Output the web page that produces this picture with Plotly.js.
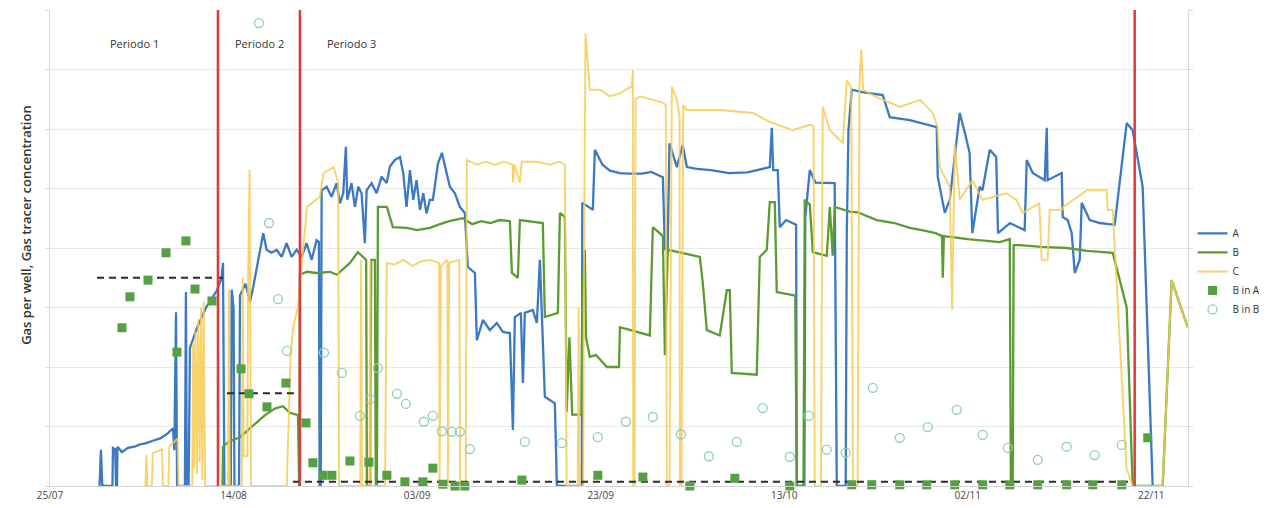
<!DOCTYPE html>
<html><head><meta charset="utf-8">
<script src="https://cdn.plot.ly/plotly-3.0.1.min.js"></script>
<style>body{margin:0;background:#fff}#chart{width:1282px;height:508px}</style>
</head><body><div id="chart"></div>
<script>
// x = days since 25/07, y = relative units
const tickDays = [0,20,40,60,80,100,120];
const tickLabels = ["25/07","14/08","03/09","23/09","13/10","02/11","22/11"];
const periodLines = [18.3, 27.23, 118.19];
const periodNames = ["Periodo 1","Periodo 2","Periodo 3"];
const periodLabelDays = [9.26, 22.88, 32.9];
const refStarts = [5.12, 19.28, 26.47];
const refEnds = [18.85, 27.02, 117.97];
const refLevels = [3.5, 1.56, 0.07];

const seriesA = [
[5.4,0],[5.55,0.61],[5.7,0],
[6.8,0],[6.86,0.64],[7.1,0.62],[7.2,0],[7.3,0],[7.35,0.66],[7.84,0.57],[8.5,0.64],[9.2,0.66],[9.8,0.7],[10.5,0.72],[11.2,0.76],[12,0.8],[12.8,0.88],[13.4,0.97],[13.55,0.6],[13.73,2.92],[13.85,0],[14.7,0],[14.81,3.26],[14.9,0],[15.1,0],[15.25,2.32],[16,2.65],[17,3.0],[18.2,3.29],[18.7,3.5],[18.85,3.75],[19.0,0],
[19.7,0],[19.8,3.3],[20.0,3.0],[20.1,0],[20.6,0],[20.7,3.2],[21.3,3.4],[21.8,3.1],[22.15,3.35],[22.69,3.8],[23.24,4.25],[23.6,3.97],[24.15,3.92],[24.7,3.97],[25.24,3.85],[25.78,4.08],[26.33,3.85],[26.87,3.97],[27.42,3.85],[27.96,4.08],[28.51,3.8],[29.05,4.13],[29.3,4.1],[29.38,0],[29.5,0],[29.6,4.97],[30.14,5.03],[30.68,4.86],[31.23,5.09],[31.59,4.75],[31.95,4.92],[32.24,5.7],[32.39,4.81],[32.86,5.09],[33.22,4.69],[33.59,5.03],[33.95,4.92],[34.31,4.08],[34.5,4.97],[35.04,5.09],[35.59,4.92],[36.13,5.2],[36.68,5.09],[37.04,5.37],[37.58,5.48],[38.13,5.53],[38.49,5.26],[38.85,4.69],[39.22,5.31],[39.58,4.81],[39.94,5.14],[40.31,4.64],[40.67,4.92],[41.03,4.58],[41.39,4.81],[41.72,4.81],[42.27,5.42],[42.7,5.6],[43.03,5.37],[43.57,5.03],[44.12,4.92],[44.66,4.69],[45.2,4.59],[45.53,3.68],[46.3,3.58],[46.51,2.45],[47.17,2.79],[47.93,2.62],[48.69,2.74],[49.35,2.59],[50.11,2.57],[50.44,0.94],[50.65,2.84],[51.31,2.91],[51.53,1.73],[51.74,2.91],[52.61,2.96],[53.05,2.74],[53.38,3.8],[53.92,1.5],[55.01,1.39],[55.23,0],
[57.95,0],[58.0,4.76],[59.15,4.64],[59.37,5.65],[60.2,5.4],[61,5.3],[62.09,5.26],[63,5.25],[64.5,5.25],[65.5,5.28],[66.78,5.19],[67.0,3.97],[67.3,4.0],[67.5,5.76],[68.3,5.36],[68.95,5.73],[69.39,5.36],[70.5,5.33],[72,5.31],[74,5.26],[76,5.27],[78.43,5.36],[78.65,6.02],[78.8,5.31],[79.3,5.31],[79.52,4.35],[80.2,4.47],[81.3,4.39],[81.37,0],[82.2,0],[82.3,4.52],[82.79,5.31],[83.4,5.1],[85.5,5.09],[85.73,0],[86.7,0],[86.82,4.25],[87.0,5.98],[87.36,6.66],[88.5,6.62],[90.74,6.57],[91.5,6.2],[93.68,6.15],[96.62,6.03],[96.73,5.2],[97.5,4.59],[98.04,4.81],[99.13,6.27],[99.7,5.93],[100.2,5.6],[100.5,4.25],[101.3,5.03],[101.6,4.97],[102.4,5.65],[103.1,5.53],[103.3,4.25],[104.6,4.42],[106.2,4.3],[106.43,5.48],[107.08,5.26],[108.39,5.14],[108.61,6.02],[108.7,5.14],[110.24,5.26],[110.35,4.52],[110.89,4.47],[111.33,4.25],[111.66,3.58],[112.2,3.8],[112.42,4.76],[113.29,4.47],[114.38,4.42],[116.01,4.39],[117.32,6.1],[117.97,5.98],[119.06,5.03],[120.15,0]
];

const seriesB = [
[18.8,0],[18.85,0.66],[19.5,0.75],[20.7,0.82],[22,1.0],[23.5,1.2],[24.5,1.3],[25.38,1.34],[26.14,1.23],[27.02,1.19],[27.15,0],[27.23,3.55],[28,3.6],[29,3.58],[30.5,3.6],[31.26,3.55],[32.68,3.75],[33.55,3.93],[34.1,3.85],[34.45,3.8],[34.53,0],[34.9,0],[35.0,3.8],[35.4,3.8],[35.5,0],[35.62,0],[35.73,4.69],[36.71,4.69],[37.36,4.35],[38.89,4.34],[40,4.3],[41.39,4.34],[42.5,4.4],[43.5,4.45],[45,4.5],[46,4.4],[47,4.45],[48,4.42],[49,4.47],[50.11,4.45],[50.33,3.58],[50.98,3.5],[51.2,4.47],[53.7,4.42],[53.92,2.84],[55.34,2.91],[55.56,4.59],[56.1,4.52],[56.3,1.25],[56.6,2.5],[56.9,1.2],[57.9,1.2],[58.0,3.1],[58.28,3.97],[58.4,2.5],[58.82,2.17],[59.5,2.2],[60.68,2.0],[62.0,2.0],[62.1,2.67],[65.36,2.53],[65.69,4.35],[66.78,4.2],[67.0,2.2],[67.32,3.97],[70.81,3.85],[71.13,3.41],[71.57,2.62],[72.98,2.53],[73.75,3.29],[74.07,3.29],[74.29,1.9],[77.01,1.87],[77.34,3.85],[78.1,3.97],[78.43,4.77],[78.98,4.77],[79.19,3.26],[80.94,3.21],[81.2,3.2],[81.37,0],[82.1,0],[82.24,4.81],[82.79,4.73],[83.12,3.93],[84.64,3.87],[84.97,4.69],[85.29,3.87],[85.51,4.69],[87.15,4.61],[88,4.6],[90.09,4.47],[92,4.42],[93.68,4.34],[95,4.3],[96.5,4.25],[97.2,4.2],[97.28,3.5],[97.4,4.2],[100,4.15],[103.49,4.1],[104.58,4.15],[104.7,0],[104.9,0],[105.0,4.05],[105.66,4.05],[108,4.02],[110.78,4.0],[113,3.95],[115.8,3.92],[116.56,3.46],[117.32,3.0],[117.97,0],[121.24,0],[122.22,3.46],[123.97,2.67]
];

const seriesC = [
[10.4,0],[10.5,0.52],[10.6,0],[11.1,0],[11.2,0.55],[12.2,0.62],[12.3,0],[12.9,0],[13.0,0.66],[13.9,0.8],[14.0,0],[15.5,0],[15.6,2.4],[15.7,0.3],[15.85,2.6],[16.0,0.2],[16.15,2.8],[16.3,0.4],[16.45,3.0],[16.6,0.1],[16.75,3.1],[16.9,0],
[19.4,0],[19.5,3.3],[19.6,0],[20.9,0],[21.0,3.5],[21.1,0.5],[21.5,0.5],[21.6,3.7],[21.75,5.31],[21.9,0],
[25.8,0],[26.0,1.2],[26.2,2.17],[26.5,2.67],[27.0,3.0],[27.3,3.5],[28,4.69],[29.4,4.86],[29.8,5.26],[30.9,5.36],[31.4,5.1],[31.5,0],
[33.8,0],[33.9,3.8],[34.0,0],[34.8,0],[34.9,3.8],[35.0,0],[36.5,0],[36.7,3.75],[37.5,3.72],[38.5,3.8],[39.5,3.7],[40.5,3.78],[41.4,3.8],[42.4,3.75],[42.45,0],[42.6,3.7],[43.3,3.8],[43.35,0],[43.5,3.75],[44.6,3.8],[44.7,0],
[45.3,0],[45.42,5.48],[46.5,5.4],[47.5,5.45],[48.5,5.4],[49.5,5.45],[50.4,5.4],[50.44,5.1],[50.6,5.4],[51.2,5.1],[51.4,5.45],[53,5.45],[54.5,5.4],[55.5,5.45],[56.1,5.4],[56.3,0],
[57.5,0],[57.6,3.0],[57.7,0],[58.1,0],[58.2,4.25],[58.35,7.6],[58.82,6.66],[59.91,6.66],[61,6.55],[62.09,6.6],[63.4,6.72],[63.51,6.99],[63.55,0],[63.7,0],[63.8,6.5],[64.27,6.55],[65.7,6.49],[66.78,6.44],[67.1,6.4],[67.21,0],[67.5,0],[67.76,6.71],[68.3,6.5],[68.6,6.2],[68.63,0],[68.8,0],[69.0,6.4],[69.39,6.32],[72.98,6.32],[76.58,6.27],[78.43,6.12],[80.94,5.98],[82.79,6.07],[83.2,6.05],[83.33,0],[84.0,0],[84.2,6.37],[84.97,5.98],[86.38,5.76],[86.82,6.82],[87.3,6.7],[87.5,0],[88.0,0],[88.2,6.8],[88.4,7.33],[88.6,6.66],[90.0,6.54],[92.6,6.37],[94.8,6.49],[96.2,6.27],[96.7,6.03],[96.95,5.36],[98.04,5.03],[98.3,2.96],[98.58,5.76],[99.13,4.81],[100.5,5.14],[101.6,4.81],[104.2,4.92],[105.3,4.81],[106,4.59],[107.8,4.75],[108.06,3.8],[108.71,3.8],[108.93,4.64],[110.3,4.64],[110.4,4.69],[113,4.97],[115.14,4.97],[115.25,4.64],[115.8,4.64],[116.01,4.0],[117.3,0.3],[117.97,0],[121.24,0],[122.22,3.46],[123.97,2.67]
];

const bInA = [
[7.84,2.66],[8.71,3.18],[10.68,3.46],[12.64,3.92],[13.83,2.25],[14.81,4.12],[15.8,3.31],[17.65,3.11],
[20.81,1.97],[21.68,1.55],[23.64,1.33],[25.71,1.73],
[27.89,1.06],[28.65,0.39],[29.74,0.18],[30.72,0.18],[32.68,0.42],[34.75,0.4],[36.71,0.18],[38.67,0.07],[40.63,0.07],[41.72,0.3],[42.81,0.03],[44.12,0.0],[45.2,0.0],
[51.42,0.1],[59.69,0.18],[64.6,0.15],[69.72,0.0],[74.62,0.13],[80.61,0.0],[87.36,0.02],[89.54,0.02],[92.59,0.02],[95.53,0.02],[98.58,0.02],[101.63,0.02],[104.58,0.02],[107.63,0.02],[110.78,0.02],[113.62,0.02],[116.78,0.02],[119.61,0.81]
];

const bInB = [
[22.77,7.78],[23.86,4.42],[24.84,3.14],[25.82,2.27],[29.85,2.24],[31.81,1.9],[33.77,1.18],[34.86,1.46],[35.73,1.98],[37.8,1.55],[38.78,1.38],[40.74,1.08],[41.72,1.18],[42.7,0.92],[43.79,0.91],[44.66,0.91],[45.75,0.62],
[51.74,0.74],[55.77,0.72],[59.69,0.82],[62.75,1.08],[65.69,1.16],[68.74,0.87],[71.79,0.5],[74.84,0.74],[77.67,1.31],[80.61,0.49],[82.68,1.18],[84.64,0.61],[86.7,0.56],
[89.65,1.65],[92.59,0.81],[95.64,0.99],[98.8,1.28],[101.63,0.86],[104.36,0.64],[107.63,0.44],[110.78,0.66],[113.83,0.52],[116.78,0.69]
];

const xs = a => a.map(p => p[0]);
const ys = a => a.map(p => p[1]);
const FONT = "Open Sans, Lato, sans-serif";

const traces = [
  {x: xs(seriesA), y: ys(seriesA), name: "A", mode: "lines", line: {color: "#3b79c4", width: 2.3}},
  {x: xs(seriesB), y: ys(seriesB), name: "B", mode: "lines", line: {color: "#5a9c32", width: 2.3}},
  {x: xs(seriesC), y: ys(seriesC), name: "C", mode: "lines", line: {color: "rgba(247,202,80,0.85)", width: 1.9}}
];
refLevels.forEach((lv, i) => {
  traces.push({x: [refStarts[i], refEnds[i]], y: [lv, lv], mode: "lines", showlegend: false, hoverinfo: "skip",
    line: {color: "#2b2b2b", width: 2, dash: "7px,5px"}});
});
traces.push({x: xs(bInA), y: ys(bInA), name: "B in A", mode: "markers", cliponaxis: false,
  marker: {symbol: "square", size: 9, color: "#55a042"}});
traces.push({x: xs(bInB), y: ys(bInB), name: "B in B", mode: "markers", cliponaxis: false,
  marker: {symbol: "circle-open", size: 9, color: "#8dcfba", line: {width: 1.3, color: "#8dcfba"}}});

const shapes = periodLines.map(d => ({type: "line", xref: "x", yref: "paper", x0: d, x1: d, y0: 0, y1: 1,
  line: {color: "#e5363b", width: 2.5}, layer: "above"}));

const annotations = periodNames.map((t, i) => ({x: periodLabelDays[i], y: 7.43, xref: "x", yref: "y", text: t,
  showarrow: false, font: {family: FONT, size: 11, color: "#333"}}));
annotations.push({xref: "paper", yref: "paper", x: -0.031, y: 0.548, text: "Gas per well, Gas tracer concentration",
  textangle: -90, showarrow: false, font: {family: FONT, size: 13, color: "#333", weight: 600}});

const layout = {
  width: 1282, height: 508,
  margin: {l: 50, r: 94, t: 10, b: 22},
  paper_bgcolor: "#fff", plot_bgcolor: "#fff",
  font: {family: FONT, size: 10, color: "#444"},
  showlegend: true,
  legend: {x: 1.004, xanchor: "left", y: 0.561, yanchor: "top", font: {family: FONT, size: 10, color: "#333"},
    tracegroupgap: 0, bgcolor: "rgba(0,0,0,0)"},
  xaxis: {range: [0, 124], tickvals: tickDays, ticktext: tickLabels, showgrid: false, zeroline: false,
    showline: true, linecolor: "#d4d4d4", ticks: "", tickfont: {family: FONT, size: 10, color: "#444"}},
  yaxis: {range: [0, 8], dtick: 1, showgrid: true, gridcolor: "#e9e9e9", zeroline: false, showticklabels: false,
    showline: true, linecolor: "#d9d9d9", mirror: "ticks", ticks: "outside", ticklen: 4, tickcolor: "#d9d9d9"},
  shapes: shapes,
  annotations: annotations
};

Plotly.newPlot("chart", traces, layout, {displayModeBar: false, staticPlot: true});
</script>
</body></html>
